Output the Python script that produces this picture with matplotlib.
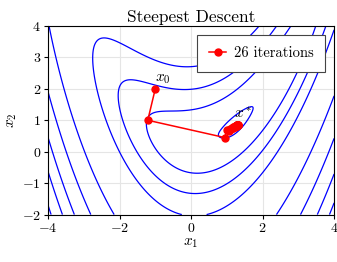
import numpy as np
import matplotlib
matplotlib.use("Agg")
import matplotlib.pyplot as plt

plt.rcParams["mathtext.fontset"] = "cm"
plt.rcParams["font.family"] = ["cmr10", "DejaVu Serif"]
plt.rcParams["axes.formatter.use_mathtext"] = True

# iterates of steepest descent
path_x1 = [-1.00, -1.21, 0.94, 1.00, 1.07, 1.085, 1.13, 1.14, 1.175, 1.183, 1.21,
           1.217, 1.238, 1.243, 1.258, 1.262, 1.273, 1.276, 1.284, 1.286, 1.292,
           1.294, 1.298, 1.300, 1.303, 1.304, 1.306]
path_x2 = [2.00, 1.00, 0.45, 0.69, 0.672, 0.73, 0.718, 0.76, 0.75, 0.785, 0.778,
           0.805, 0.80, 0.82, 0.816, 0.832, 0.829, 0.841, 0.839, 0.848, 0.846,
           0.853, 0.852, 0.857, 0.856, 0.860, 0.859]

# banana shaped objective: along-valley term + curved valley term,
# with a softer valley floor right around the minimum
x_min = 1.25
alpha, beta = 1.0, 0.25
b_floor, b_wall = 2.4, 13.8
floor_u, floor_r = 1.0, 0.6
c_valley, d_valley = 0.35, 0.33
levels = [0.25, 16, 40, 80, 260, 440, 630, 810, 1020]

def objective(x1, x2):
    u = x1 - x_min
    r = x2 - (c_valley * x1**2 + d_valley)
    soft = np.exp(-(u / floor_u)**2) * np.exp(-(r / floor_r)**4)
    b = b_wall - (b_wall - b_floor) * soft
    return alpha * u**2 + beta * u**4 + b * r**2

g1 = np.linspace(-4, 4, 500)
g2 = np.linspace(-2, 4, 400)
X1, X2 = np.meshgrid(g1, g2)
F = objective(X1, X2)

fig = plt.figure(figsize=(3.37, 2.62), dpi=100)
ax = fig.add_axes([0.1424, 0.181, 0.849, 0.72])

ax.contour(X1, X2, F, levels=levels, colors="#0000ff", linewidths=0.9)
ax.plot(path_x1, path_x2, "-o", color="#ff0000", lw=1.1, ms=5, label="26 iterations")

ax.text(path_x1[0], path_x2[0] + 0.08, r"$x_0$", fontsize=11, ha="left", va="bottom")
ax.text(1.2, 0.97, r"$x^*$", fontsize=11, ha="left", va="bottom")

ax.set_xlim(-4, 4)
ax.set_ylim(-2, 4)
ax.set_xticks([-4, -2, 0, 2, 4])
ax.set_yticks([-2, -1, 0, 1, 2, 3, 4])
ax.grid(True, color="#e5e5e5", lw=0.8)
ax.set_axisbelow(True)
ax.tick_params(direction="out", length=3, width=0.8, labelsize=10, pad=2)
for s in ax.spines.values():
    s.set_linewidth(0.8)

ax.set_xlabel(r"$x_1$", fontsize=11, labelpad=1)
ax.set_ylabel(r"$x_2$", fontsize=11, labelpad=2)
ax.set_title("Steepest Descent", fontsize=12.5, pad=3)

leg = ax.legend(loc="upper right", fontsize=10.5, fancybox=False, framealpha=1,
                edgecolor="#444444", borderaxespad=0.6, borderpad=0.82,
                handlelength=1.2, handletextpad=0.5)
leg.get_frame().set_linewidth(0.8)

fig.savefig("out.png", dpi=100)
